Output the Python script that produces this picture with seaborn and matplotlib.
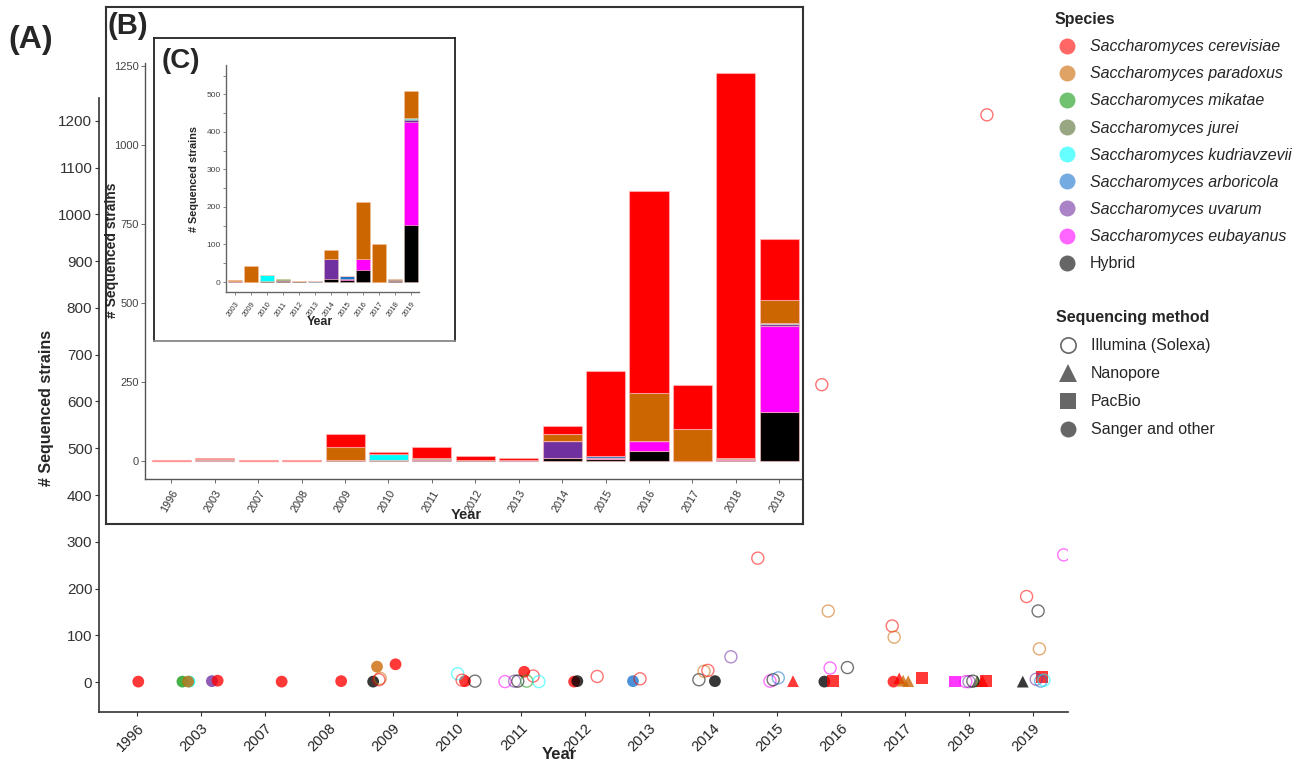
import numpy as np
import pandas as pd
import matplotlib
matplotlib.use("Agg")
import matplotlib.pyplot as plt
import seaborn as sns
from matplotlib.lines import Line2D
from matplotlib.colors import to_rgba

# ---------------- data ----------------
years = ["1996", "2003", "2007", "2008", "2009", "2010", "2011", "2012",
         "2013", "2014", "2015", "2016", "2017", "2018", "2019"]

species_codes = ["cer", "par", "mik", "jur", "kud", "arb", "uva", "eub", "hyb"]
species_labels = ["Saccharomyces cerevisiae", "Saccharomyces paradoxus",
                  "Saccharomyces mikatae", "Saccharomyces jurei",
                  "Saccharomyces kudriavzevii", "Saccharomyces arboricola",
                  "Saccharomyces uvarum", "Saccharomyces eubayanus", "Hybrid"]
species_colors = ["#FF0000", "#CC6600", "#119A11", "#556B2F", "#00FFFF",
                  "#1874CD", "#7030A0", "#FF00FF", "#000000"]

method_codes = ["I", "N", "P", "S"]
method_labels = ["Illumina (Solexa)", "Nanopore", "PacBio", "Sanger and other"]

# one entry per plotted point (year, species, method, number of strains)
pt_year = ["1996",
           "2003", "2003", "2003", "2003", "2003",
           "2007", "2008",
           "2009", "2009", "2009", "2009", "2009",
           "2010", "2010", "2010", "2010",
           "2011", "2011", "2011", "2011", "2011", "2011", "2011",
           "2012", "2012", "2012",
           "2013", "2013",
           "2014", "2014", "2014", "2014", "2014",
           "2015", "2015", "2015", "2015", "2015",
           "2016", "2016", "2016", "2016", "2016", "2016",
           "2017", "2017", "2017", "2017", "2017", "2017", "2017",
           "2018", "2018", "2018", "2018", "2018", "2018", "2018", "2018",
           "2019", "2019", "2019", "2019", "2019", "2019", "2019", "2019", "2019"]
pt_species = ["cer",
              "mik", "kud", "par", "uva", "cer",
              "cer", "cer",
              "hyb", "par", "par", "cer", "cer",
              "kud", "cer", "cer", "hyb",
              "eub", "uva", "hyb", "mik", "cer", "cer", "kud",
              "cer", "hyb", "cer",
              "arb", "cer",
              "hyb", "par", "cer", "hyb", "uva",
              "cer", "eub", "hyb", "arb", "cer",
              "cer", "par", "hyb", "eub", "cer", "hyb",
              "cer", "par", "cer", "cer", "par", "par", "cer",
              "eub", "eub", "uva", "hyb", "jur", "cer", "cer", "cer",
              "hyb", "cer", "uva", "hyb", "par", "arb", "cer", "kud", "eub"]
pt_method = ["S",
             "S", "S", "S", "S", "S",
             "S", "S",
             "S", "S", "I", "I", "S",
             "I", "I", "S", "I",
             "I", "I", "I", "I", "S", "I", "I",
             "S", "S", "I",
             "S", "I",
             "I", "I", "I", "S", "I",
             "I", "I", "I", "I", "N",
             "I", "I", "S", "I", "P", "I",
             "I", "I", "S", "N", "N", "N", "P",
             "P", "I", "I", "I", "N", "N", "P", "I",
             "N", "I", "I", "I", "I", "I", "P", "I", "I"]
pt_count = [1,
            1, 1, 1, 2, 3,
            1, 2,
            1, 33, 8, 5, 38,
            18, 4, 2, 2,
            1, 2, 2, 2, 22, 13, 1,
            1, 2, 12,
            2, 7,
            5, 23, 25, 2, 54,
            265, 2, 5, 9, 2,
            636, 152, 1, 30, 2, 31,
            120, 96, 1, 8, 3, 2, 9,
            1, 1, 1, 2, 2, 2, 3, 1213,
            1, 183, 6, 152, 71, 2, 11, 4, 272]
# horizontal jitter of each point inside its year column
pt_jitter = [0.02,
             -0.29, -0.18, -0.20, 0.17, 0.26,
             0.26, 0.19,
             -0.31, -0.25, -0.20, -0.22, 0.04,
             0.01, 0.08, 0.125, 0.28,
             -0.25, -0.10, -0.05, 0.09, 0.05, 0.19, 0.28,
             -0.17, -0.12, 0.19,
             -0.25, -0.14,
             -0.22, -0.14, -0.08, 0.03, 0.28,
             -0.30, -0.11, -0.06, 0.02, 0.25,
             -0.30, -0.20, -0.26, -0.17, -0.13, 0.10,
             -0.20, -0.17, -0.18, -0.09, -0.03, 0.05, 0.27,
             -0.22, -0.05, 0.00, 0.06, 0.13, 0.21, 0.26, 0.28,
             -0.16, -0.10, 0.05, 0.08, 0.10, 0.12, 0.14, 0.17, 0.48]

# ---------------- setup ----------------
sns.set_theme(style="white")
plt.rcParams["font.family"] = ["Liberation Sans", "DejaVu Sans"]

W, H = 1304, 765
fig = plt.figure(figsize=(W / 100, H / 100), dpi=100)


def fr(l, t, r, b):
    return [l / W, 1 - b / H, (r - l) / W, (b - t) / H]


pal = dict(zip(species_codes, species_colors))
year_idx = {y: i for i, y in enumerate(years)}

pts = pd.DataFrame({"year": pt_year, "sp": pt_species, "method": pt_method,
                    "count": pt_count, "jit": pt_jitter})
pts["x"] = pts["year"].map(year_idx) + pts["jit"]

# ---------------- panel A (scatter) ----------------
A_l, A_t, A_r, A_b = 98.6, 98, 1068.2, 712
axA = fig.add_axes(fr(A_l, A_t, A_r, A_b))
filled = pts[pts["method"] != "I"]
sns.scatterplot(data=filled, x="x", y="count", hue="sp", hue_order=species_codes,
                palette=pal, style="method", style_order=["S", "N", "P"],
                markers={"S": "o", "N": "^", "P": "s"}, s=72, alpha=0.78,
                linewidth=0, legend=False, ax=axA)
openp = pts[pts["method"] == "I"]
sns.scatterplot(data=openp, x="x", y="count", hue="sp", hue_order=species_codes,
                palette=pal, marker="o", s=75, legend=False, ax=axA)
coll = axA.collections[-1]
ec = np.array(coll.get_facecolors())
ec[:, 3] = 0.55
coll.set_facecolors("none")
coll.set_edgecolors(ec)
coll.set_linewidths(1.0)

axA.set_xlim(-0.6, 14.55)
axA.set_ylim(-64, 1249)
axA.set_xticks(range(len(years)))
axA.set_xticklabels(years, rotation=45, ha="right", rotation_mode="anchor",
                    fontsize=10.5, color="#222")
axA.set_yticks(range(0, 1201, 100))
axA.tick_params(axis="y", labelsize=11, labelcolor="#333", pad=1.5)
axA.tick_params(bottom=True, left=True, length=3, width=0.8, color="#333")
for s in ["top", "right"]:
    axA.spines[s].set_visible(False)
for s in ["left", "bottom"]:
    axA.spines[s].set_color("#333")
    axA.spines[s].set_linewidth(1.2)
axA.set_xlabel("Year", fontsize=12, fontweight="bold")
axA.xaxis.set_label_coords(0.475, -(747 - A_b) / (A_b - A_t))
axA.set_ylabel("# Sequenced strains", fontsize=11.5, fontweight="bold")
axA.yaxis.set_label_coords(-(A_l - 54) / (A_r - A_l), (A_b - 408) / (A_b - A_t))

# ---------------- panel B (stacked bars) ----------------
boxB = fig.add_axes(fr(105.7, 7.3, 802.7, 524))
boxB.set_xticks([]); boxB.set_yticks([])
boxB.set_facecolor("white")
for s in boxB.spines.values():
    s.set_visible(True); s.set_color("#333"); s.set_linewidth(1.5)

B_l, B_t, B_r, B_b = 145.3, 63, 801, 479.3
axB = fig.add_axes(fr(B_l, B_t, B_r, B_b))
axB.set_facecolor("white")
totB = pts.groupby(["year", "sp"], as_index=False)["count"].sum()
totB["xi"] = totB["year"].map(year_idx)
sns.histplot(data=totB, x="xi", weights="count", hue="sp", hue_order=species_codes,
             palette=pal, multiple="stack", discrete=True, shrink=0.9, alpha=1,
             edgecolor=(1, 0.75, 0.75, 0.6), linewidth=0.8, legend=False, ax=axB)
axB.set_xlim(-0.6, 14.5)
axB.set_ylim(-59, 1258)
axB.set_xticks(range(len(years)))
axB.set_xticklabels(years, rotation=60, ha="right", rotation_mode="anchor",
                    fontsize=7.8, color="#333")
axB.set_yticks(range(0, 1251, 250))
axB.tick_params(axis="y", labelsize=8, labelcolor="#444", pad=1.5)
axB.tick_params(bottom=True, left=True, length=3, width=0.6, color="#555")
for s in ["top", "right"]:
    axB.spines[s].set_visible(False)
for s in ["left", "bottom"]:
    axB.spines[s].set_color("#555")
    axB.spines[s].set_linewidth(1.0)
axB.set_xlabel("Year", fontsize=10.5, fontweight="bold")
axB.xaxis.set_label_coords((466 - B_l) / (B_r - B_l), -(508 - B_b) / (B_b - B_t))
axB.set_ylabel("# Sequenced strains", fontsize=10, fontweight="bold")
axB.yaxis.set_label_coords(-(B_l - 119) / (B_r - B_l), (B_b - 250) / (B_b - B_t))

# ---------------- panel C (stacked bars, non-cerevisiae) ----------------
boxC = fig.add_axes(fr(154, 38.3, 455, 341))
boxC.set_xticks([]); boxC.set_yticks([])
boxC.set_facecolor("white")
for s in boxC.spines.values():
    s.set_visible(True); s.set_color("#222"); s.set_linewidth(1.3)
boxC.spines["bottom"].set_color("#888")

C_l, C_t, C_r, C_b = 226, 65, 419.3, 292.3
axC = fig.add_axes(fr(C_l, C_t, C_r, C_b))
axC.set_facecolor("white")
nonc = totB[totB["sp"] != "cer"]
yearsC = [y for y in years if nonc.loc[nonc["year"] == y, "count"].sum() > 0]
idxC = {y: i for i, y in enumerate(yearsC)}
nonc = nonc[nonc["year"].isin(yearsC)].copy()
nonc["xi"] = nonc["year"].map(idxC)
sns.histplot(data=nonc, x="xi", weights="count", hue="sp", hue_order=species_codes[1:],
             palette=pal, multiple="stack", discrete=True, shrink=0.9, alpha=1,
             edgecolor=(1, 0.8, 0.7, 0.6), linewidth=0.4, legend=False, ax=axC)
axC.set_xlim(-0.56, 11.52)
axC.set_ylim(-27.4, 578)
axC.set_xticks(range(len(yearsC)))
axC.set_xticklabels(yearsC, rotation=55, ha="right", rotation_mode="anchor",
                    fontsize=5.5, color="#333")
axC.set_yticks(range(0, 501, 100))
axC.set_yticks(range(50, 551, 100), minor=True)
axC.tick_params(axis="y", labelsize=6, labelcolor="#444", pad=1.5)
axC.tick_params(which="both", bottom=True, left=True, length=2.5, width=0.5, color="#555")
for s in ["top", "right"]:
    axC.spines[s].set_visible(False)
for s in ["left", "bottom"]:
    axC.spines[s].set_color("#666")
    axC.spines[s].set_linewidth(1.0)
axC.set_xlabel("Year", fontsize=9, fontweight="bold")
axC.xaxis.set_label_coords((320 - C_l) / (C_r - C_l), -(316 - C_b) / (C_b - C_t))
axC.set_ylabel("# Sequenced strains", fontsize=7.8, fontweight="bold")
axC.yaxis.set_label_coords(-(C_l - 199) / (C_r - C_l), 0.5)

# ---------------- panel letters ----------------
fig.text(8 / W, 1 - 40 / H, "(A)", fontsize=23, fontweight="bold", va="center", ha="left")
fig.text(108 / W, 1 - 26 / H, "(B)", fontsize=21, fontweight="bold", va="center", ha="left")
fig.text(162 / W, 1 - 61 / H, "(C)", fontsize=20, fontweight="bold", va="center", ha="left")

# ---------------- legends ----------------
sp_handles = [Line2D([], [], marker="o", ls="", markersize=11.5,
                     markerfacecolor=to_rgba(c, 0.6), markeredgewidth=0)
              for c in species_colors]
leg1 = fig.legend(sp_handles, species_labels, loc="upper left",
                  bbox_to_anchor=(1055 / W, 1 - 12 / H), frameon=False,
                  title="Species", alignment="left", fontsize=11.5,
                  title_fontproperties={"weight": "bold", "size": 11.5},
                  handlelength=1.55, handletextpad=0.65, labelspacing=0.76,
                  borderpad=0, borderaxespad=0)
for t, lab in zip(leg1.get_texts(), species_labels):
    if lab != "Hybrid":
        t.set_style("italic")

gcol = "#666666"
m_handles = [
    Line2D([], [], marker="o", ls="", markersize=11, markerfacecolor="none",
           markeredgecolor=gcol, markeredgewidth=1.2),
    Line2D([], [], marker="^", ls="", markersize=13, markerfacecolor=gcol, markeredgewidth=0),
    Line2D([], [], marker="s", ls="", markersize=11, markerfacecolor=gcol, markeredgewidth=0),
    Line2D([], [], marker="o", ls="", markersize=11.5, markerfacecolor=gcol, markeredgewidth=0),
]
leg2 = fig.legend(m_handles, method_labels, loc="upper left",
                  bbox_to_anchor=(1056 / W, 1 - 310 / H), frameon=False,
                  title="Sequencing method", alignment="left", fontsize=11.5,
                  title_fontproperties={"weight": "bold", "size": 11.5},
                  handlelength=1.55, handletextpad=0.65, labelspacing=0.82,
                  borderpad=0, borderaxespad=0)

fig.savefig("out.png", dpi=100)
